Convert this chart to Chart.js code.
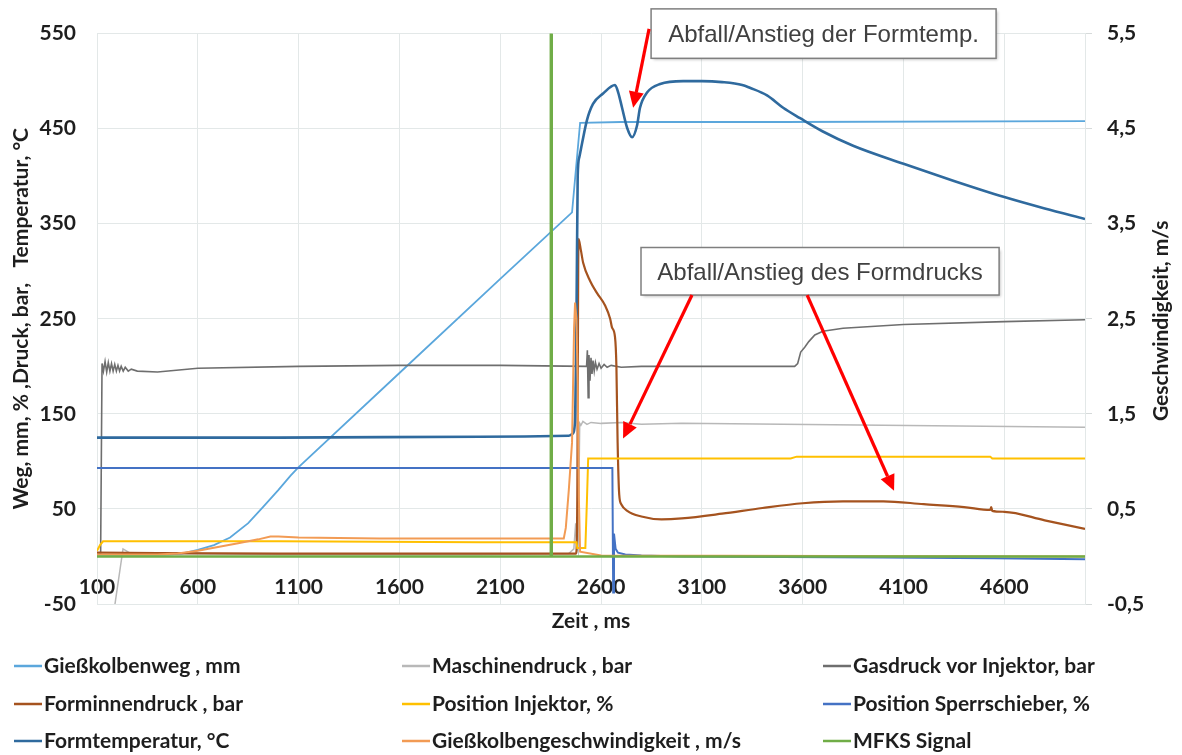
<!DOCTYPE html>
<html><head><meta charset="utf-8">
<script src="https://cdn.jsdelivr.net/npm/chart.js@4.4.1/dist/chart.umd.min.js"></script>
<style>html,body{margin:0;padding:0;background:#fff;}#wrap{position:relative;width:1182px;height:755px;}</style>
</head><body><div id="wrap"><canvas id="c" width="1182" height="755" style="width:1182px;height:755px"></canvas></div>
<script>
// ---------- data (time in ms) ----------
const xTicks = [100,600,1100,1600,2100,2600,3100,3600,4100,4600];
const yTicks = [-50,50,150,250,350,450,550];
const y1Ticks = [-0.5,0.5,1.5,2.5,3.5,4.5,5.5];

const giesskolbenweg = [[100,2],[300,2],[450,2],[520,3],[600,7],[680,12],[760,20],[850,35],[923,52],[1000,70],[1060,85],[1100,94],[1600,193],[2100,292],[2456,362],[2496,456],[2700,457],[3500,457],[5000,458]];
const maschinendruck = [[100,-180],[229,8],[260,4],[400,3],[1000,2],[2000,2],[2440,3],[2465,8],[2474,35],[2480,10],[2486,5],[2494,140],[2500,138],[2510,142],[2530,139],[2550,141],[2600,140],[2700,141],[2800,139],[3000,140],[3500,139],[4000,138],[4500,137],[5000,136]];
const gasdruck = [[100,2],[118,3],[125,203],[132,195],[140,205],[148,194],[156,204],[164,195],[172,203],[180,195],[188,202],[196,195],[204,201],[212,195],[220,200],[230,195],[240,199],[255,195],[270,197],[300,195],[400,194],[600,198],[1100,200],[1600,201],[2100,201],[2528,200],[2532,217],[2536,167],[2540,212],[2545,185],[2550,209],[2555,192],[2560,206],[2566,195],[2572,204],[2580,197],[2590,203],[2600,198],[2615,202],[2630,199],[2650,201],[2700,199],[2800,200],[3000,200],[3560,200],[3575,203],[3590,215],[3610,220],[3630,226],[3660,233],[3700,237],[3800,240],[4100,244],[4600,247],[5000,249]];
const forminnendruck = [[100,4],[1000,3],[2000,3],[2476,3],[2482,60],[2488,334],[2500,322],[2511,309],[2545,290],[2580,277],[2620,264],[2645,250],[2654,241],[2669,231],[2676,200],[2682,120],[2690,65],[2700,55],[2730,48],[2800,42],[2900,39],[3000,40],[3200,45],[3400,51],[3600,56],[3800,58],[4000,58],[4200,55],[4400,52],[4530,49],[4535,52],[4540,48],[4600,47],[4800,38],[5000,29]];
const positionInjektor = [[100,6],[115,12],[130,16],[1000,16],[2000,15],[2478,15],[2482,9],[2522,9],[2530,60],[2536,103],[3000,103],[3540,103],[3570,105],[4530,105],[4540,103],[5000,103]];
const positionSperrschieber = [[100,93],[1000,93],[2000,93],[2656,93],[2660,-38],[2664,24],[2672,8],[2684,4],[2720,2],[2800,1],[3000,0],[4000,-1],[4550,-2],[5000,-3]];
const formtemperatur = [[100,125],[1000,125],[2000,126],[2440,127],[2458,129],[2470,140],[2478,250],[2484,400],[2492,420],[2506,435],[2530,459],[2560,476],[2610,487],[2669,496],[2685,488],[2704,472],[2729,451],[2754,441],[2778,453],[2793,472],[2828,488],[2893,497],[3007,500],[3100,500],[3200,499],[3300,496],[3338,493],[3423,485],[3503,472],[3587,461],[3700,447],[3850,432],[4100,413],[4350,395],[4600,378],[4800,366],[5000,355]];
const geschwindigkeit = [[100,0.02],[400,0.02],[500,0.03],[600,0.06],[700,0.10],[800,0.14],[900,0.18],[960,0.21],[1000,0.21],[1100,0.20],[1500,0.19],[2000,0.19],[2415,0.19],[2425,0.3],[2440,0.7],[2456,1.2],[2466,2.4],[2471,2.67],[2478,2.5],[2484,1.8],[2490,0.6],[2496,0.05],[2600,0.01],[5000,0.0]];
const mfksSignal = [[100,0],[2349,0],[2351,550],[2353,550],[2355,0],[5000,0]];

// annotations in data coordinates (ms, left-axis value)
const notes = [
  {text:'Abfall/Anstieg der Formtemp.', x0:2848, x1:4559, y0:576, y1:524},
  {text:'Abfall/Anstieg des Formdrucks', x0:2798, x1:4574, y0:325, y1:275}
];
const arrows = [
  {from:[2838,555], to:[2759,472]},
  {from:[3051,275], to:[2709,124]},
  {from:[3622,275], to:[4053,69]}
];

// ---------- styling ----------
const FONT = 'Lato, "Open Sans", sans-serif';
const series = [
  {label:'Gießkolbenweg , mm', data:giesskolbenweg, color:'#5BA7DC', w:1.8, axis:'y'},
  {label:'Maschinendruck , bar', data:maschinendruck, color:'#B8B8B8', w:1.5, axis:'y'},
  {label:'Gasdruck vor Injektor, bar', data:gasdruck, color:'#6E6E6E', w:1.6, axis:'y'},
  {label:'Forminnendruck , bar', data:forminnendruck, color:'#A5531F', w:2.2, axis:'y', smooth:true},
  {label:'Position Injektor, %', data:positionInjektor, color:'#FFC000', w:2, axis:'y'},
  {label:'Position Sperrschieber, %', data:positionSperrschieber, color:'#4472C4', w:2, axis:'y'},
  {label:'Formtemperatur, °C', data:formtemperatur, color:'#2F6A9E', w:2.6, axis:'y', smooth:true},
  {label:'Gießkolbengeschwindigkeit , m/s', data:geschwindigkeit, color:'#F29B54', w:2, axis:'y1'},
  {label:'MFKS Signal', data:mfksSignal, color:'#70AD47', w:2.6, axis:'y'}
];
const GRID = '#E3E8E8';
const TXT = '#1E1E1E';
const TICKFONT = {family:FONT,size:21,weight:'bold'};
const TITLEFONT = {family:FONT,size:21,weight:'bold'};

const datasets = series.map((s,i)=>({
  label:s.label,
  data:s.data.map(p=>({x:p[0],y:p[1]})),
  borderColor:s.color, backgroundColor:s.color, borderWidth:s.w,
  pointRadius:0, pointHoverRadius:0, fill:false, tension:0,
  cubicInterpolationMode: s.smooth ? 'monotone' : 'default',
  yAxisID:s.axis, order: series.length - i
}));

const extras = {
  id:'extras',
  afterDatasetsDraw(chart){
    const ctx = chart.ctx, xs = chart.scales.x, ys = chart.scales.y;
    notes.forEach(n=>{
      const l = xs.getPixelForValue(n.x0), r = xs.getPixelForValue(n.x1);
      const t = ys.getPixelForValue(n.y0), b = ys.getPixelForValue(n.y1);
      ctx.save();
      ctx.shadowColor='rgba(0,0,0,0.28)'; ctx.shadowBlur=3; ctx.shadowOffsetX=2; ctx.shadowOffsetY=2;
      ctx.fillStyle='#fff'; ctx.fillRect(l,t,r-l,b-t);
      ctx.restore();
      ctx.save();
      ctx.strokeStyle='#7F7F7F'; ctx.lineWidth=1.5; ctx.strokeRect(l,t,r-l,b-t);
      ctx.fillStyle='#404040'; ctx.font='24px "Liberation Sans", Arial, sans-serif';
      ctx.textAlign='center'; ctx.textBaseline='middle';
      ctx.fillText(n.text,(l+r)/2,(t+b)/2+2);
      ctx.restore();
    });
    arrows.forEach(a=>{
      const x0 = xs.getPixelForValue(a.from[0]), y0 = ys.getPixelForValue(a.from[1]);
      const x1 = xs.getPixelForValue(a.to[0]), y1 = ys.getPixelForValue(a.to[1]);
      const ang = Math.atan2(y1-y0,x1-x0), hl=16, hw=7.5;
      const bx = x1 - hl*Math.cos(ang), by = y1 - hl*Math.sin(ang);
      ctx.save();
      ctx.strokeStyle='#FF0000'; ctx.fillStyle='#FF0000'; ctx.lineWidth=3.2;
      ctx.beginPath(); ctx.moveTo(x0,y0); ctx.lineTo(bx,by); ctx.stroke();
      ctx.beginPath(); ctx.moveTo(x1,y1);
      ctx.lineTo(bx + hw*Math.sin(ang), by - hw*Math.cos(ang));
      ctx.lineTo(bx - hw*Math.sin(ang), by + hw*Math.cos(ang));
      ctx.closePath(); ctx.fill();
      ctx.restore();
    });
  },
  afterDraw(chart){
    const ctx = chart.ctx, ca = chart.chartArea;
    ctx.save();
    ctx.translate(chart.width-21,(ca.top+ca.bottom)/2+2);
    ctx.rotate(-Math.PI/2);
    ctx.fillStyle=TXT; ctx.font='bold 21px '+FONT; ctx.textAlign='center'; ctx.textBaseline='middle';
    ctx.fillText('Geschwindigkeit, m/s',0,0);
    ctx.restore();
    const cols=[14,402,823], rows=[666,704,741], len=28;
    chart.data.datasets.forEach((d,i)=>{
      const cx = cols[i%3], cy = rows[Math.floor(i/3)];
      ctx.save();
      ctx.strokeStyle=d.borderColor; ctx.lineWidth=2.5;
      ctx.beginPath(); ctx.moveTo(cx,cy); ctx.lineTo(cx+len,cy); ctx.stroke();
      ctx.fillStyle=TXT; ctx.font='bold 21px '+FONT; ctx.textAlign='left'; ctx.textBaseline='middle';
      ctx.fillText(d.label,cx+len+2,cy);
      ctx.restore();
    });
  }
};

new Chart(document.getElementById('c'),{
  type:'line',
  data:{datasets},
  options:{
    responsive:false, animation:false,
    layout:{padding:{top:33,bottom:121,left:0,right:0}},
    plugins:{legend:{display:false},tooltip:{enabled:false}},
    scales:{
      x:{type:'linear',min:100,max:5000,
        afterBuildTicks:s=>{s.ticks=xTicks.map(v=>({value:v}));},
        afterFit:s=>{s.height=30;},
        grid:{color:GRID,lineWidth:1,drawTicks:false},
        border:{display:true,color:GRID},
        ticks:{mirror:true,padding:4,autoSkip:false,maxRotation:0,color:TXT,font:TICKFONT,callback:v=>String(v)},
        title:{display:true,text:'Zeit , ms',color:TXT,font:TITLEFONT,padding:{top:0,bottom:0}}
      },
      y:{type:'linear',position:'left',min:-50,max:550,
        afterBuildTicks:s=>{s.ticks=yTicks.map(v=>({value:v}));},
        afterFit:s=>{s.width=97;},
        grid:{color:GRID,lineWidth:1,drawTicks:false},
        border:{display:true,color:GRID},
        ticks:{padding:21,color:TXT,font:TICKFONT,callback:v=>String(v)},
        title:{display:true,text:'Weg, mm, % ,Druck, bar,   Temperatur, °C',color:TXT,font:TITLEFONT,padding:{top:9,bottom:0}}
      },
      y1:{type:'linear',position:'right',min:-0.5,max:5.5,
        afterBuildTicks:s=>{s.ticks=y1Ticks.map(v=>({value:v}));},
        afterFit:s=>{s.width=97;},
        grid:{drawOnChartArea:false,drawTicks:true,tickLength:7,color:'#D6DADA'},
        border:{display:true,color:GRID},
        ticks:{padding:15,color:TXT,font:TICKFONT,callback:v=>v.toFixed(1).replace('.',',')},
        title:{display:false}
      }
    }
  },
  plugins:[extras]
});
</script></body></html>
